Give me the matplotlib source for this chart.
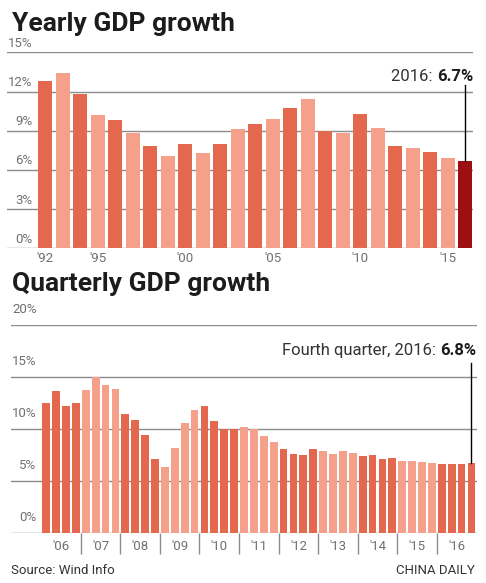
import matplotlib.pyplot as plt
from matplotlib.transforms import offset_copy

# Yearly GDP growth, 1992-2016 (%)
years = list(range(1992, 2017))
yearly_growth = [12.8, 13.4, 11.8, 10.2, 9.8, 8.8, 7.8, 7.1, 8.0, 7.3, 8.0, 9.1, 9.5,
                 9.9, 10.7, 11.4, 9.0, 8.8, 10.3, 9.2, 7.8, 7.7, 7.4, 6.9, 6.7]
yearly_ticks = [1992, 1995, 2000, 2005, 2010, 2015]
yearly_yticks = [0, 3, 6, 9, 12, 15]

# Quarterly GDP growth, 2006Q1-2016Q4 (%)
q_years = list(range(2006, 2017))
quarterly_growth = [
    12.5, 13.7, 12.2, 12.5,   # 2006
    13.8, 15.0, 14.3, 13.9,   # 2007
    11.5, 10.9, 9.5, 7.1,     # 2008
    6.4, 8.2, 10.6, 11.9,     # 2009
    12.2, 10.8, 10.0, 10.0,   # 2010
    10.2, 10.0, 9.4, 8.8,     # 2011
    8.1, 7.6, 7.5, 8.1,       # 2012
    7.9, 7.6, 7.9, 7.7,       # 2013
    7.4, 7.5, 7.1, 7.2,       # 2014
    7.0, 7.0, 6.9, 6.8,       # 2015
    6.7, 6.7, 6.7, 6.8,       # 2016
]
quarterly_yticks = [0, 5, 10, 15, 20]

DARK = "#e4684d"
LIGHT = "#f5a08a"
HIGHLIGHT = "#9c1014"
GRID = "#8c8c8c"
LABEL = "#707070"
INK = "#1c1c1c"

plt.rcParams['font.family'] = ['Roboto', 'DejaVu Sans']

W, H = 486, 583
fig = plt.figure(figsize=(W / 100, H / 100), dpi=100)


def box(left, top, right, bottom):
    return [left / W, 1 - bottom / H, (right - left) / W, (bottom - top) / H]


def style_axes(ax, yticks, label_dy):
    ax.set_yticks(yticks)
    ax.set_yticklabels([])
    ax.tick_params(axis='y', length=0)
    ax.grid(axis='y', color=GRID, linewidth=1)
    ax.set_axisbelow(True)
    for s in ax.spines.values():
        s.set_visible(False)
    # y labels sit above their gridlines
    trans = offset_copy(ax.get_yaxis_transform(), fig=fig, x=0, y=label_dy, units='dots')
    for v in yticks:
        ax.text(0.055, v, f"{v}%", transform=trans, ha='right', va='center',
                fontsize=9.5, color=LABEL)


# ---------------- Yearly chart ----------------
ax1 = fig.add_axes(box(7, 52.3, 473, 248.3))
idx = list(range(len(years)))
colors = [DARK if i % 2 == 0 else LIGHT for i in idx]
colors[-1] = HIGHLIGHT
ax1.bar(idx, yearly_growth, width=0.8, color=colors, zorder=2)
ax1.set_xlim(-2.19, 24.44)
ax1.set_ylim(0, 15)
style_axes(ax1, yearly_yticks, 9)
ax1.set_xticks([years.index(y) for y in yearly_ticks])
ax1.set_xticklabels([f"'{str(y)[2:]}" for y in yearly_ticks])
ax1.tick_params(axis='x', length=0, pad=3, labelsize=9.5, labelcolor=LABEL)

last = len(years) - 1
ax1.plot([last, last], [yearly_growth[-1], 12.5], color='black', linewidth=1, zorder=3)
bold1 = ax1.text(1.0, 13.18, f"{yearly_growth[-1]}%", transform=ax1.get_yaxis_transform(),
                 ha='right', va='center', fontsize=12, fontweight='bold', color=INK)
ax1.annotate(f"{years[-1]}: ", xy=(0, 0), xycoords=bold1, ha='right', va='bottom',
             fontsize=12, color='#333333')

fig.text(12 / W, 1 - 31 / H, "Yearly GDP growth", fontsize=19, fontweight='bold',
         color=INK, va='baseline')

# ---------------- Quarterly chart ----------------
ax2 = fig.add_axes(box(11, 325.3, 477, 533.3))
qidx = list(range(len(quarterly_growth)))
qcolors = [DARK if (i // 4) % 2 == 0 else LIGHT for i in qidx]
ax2.bar(qidx, quarterly_growth, width=0.78, color=qcolors, zorder=2)
ax2.set_xlim(-3.56, 43.56)
ax2.set_ylim(0, 20)
style_axes(ax2, quarterly_yticks, 15.5)
ax2.set_xticks([4 * k + 1.5 for k in range(len(q_years))])
ax2.set_xticklabels([f"'{str(y)[2:]}" for y in q_years])
ax2.set_xticks([4 * k - 0.5 for k in range(1, len(q_years))], minor=True)
ax2.tick_params(axis='x', which='major', length=0, pad=5, labelsize=9.5, labelcolor=LABEL)
ax2.tick_params(axis='x', which='minor', length=15, width=1, color=GRID, direction='out')

qlast = len(quarterly_growth) - 1
ax2.plot([qlast, qlast], [quarterly_growth[-1], 16.35], color='black', linewidth=1, zorder=3)
bold2 = ax2.text(0.9975, 17.53, f"{quarterly_growth[-1]}%", transform=ax2.get_yaxis_transform(),
                 ha='right', va='center', fontsize=12, fontweight='bold', color=INK)
ax2.annotate(f"Fourth quarter, {q_years[-1]}: ", xy=(0, 0), xycoords=bold2, ha='right',
             va='bottom', fontsize=12, color='#333333')

fig.text(12 / W, 1 - 290.5 / H, "Quarterly GDP growth", fontsize=19, fontweight='bold',
         color=INK, va='baseline')

fig.text(11 / W, 1 - 570 / H, "Source: Wind Info", fontsize=9.5, color='#333333',
         va='center')
fig.text(475 / W, 1 - 570 / H, "CHINA DAILY", fontsize=9.5, color='#333333',
         va='center', ha='right')

fig.savefig("out.png", dpi=100)
